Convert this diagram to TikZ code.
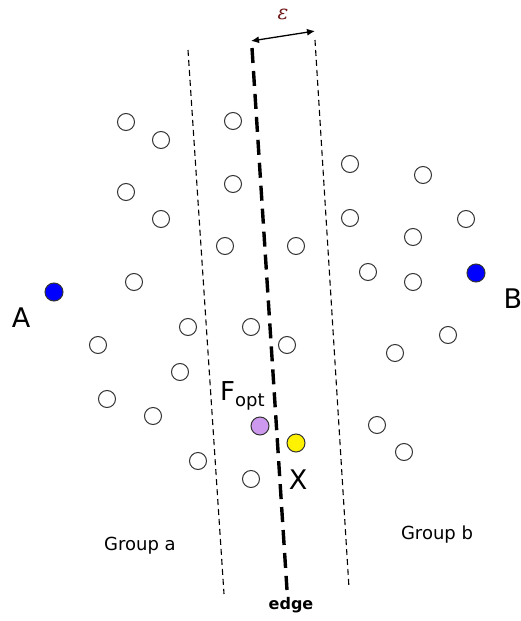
\documentclass[tikz,border=0pt]{standalone}
\usepackage{fontspec}
\setmainfont{DejaVu Sans}
\newfontfamily\epsfont{DejaVu Serif}
\usetikzlibrary{arrows.meta}
\definecolor{ptpurple}{RGB}{204,153,238}
\definecolor{eps}{RGB}{110,25,25}
\begin{document}
\begin{tikzpicture}[x=1pt,y=-1pt,
  pt/.style={circle,draw=black!80,line width=1pt,fill=white,minimum size=17pt,inner sep=0pt},
  boundary/.style={dashed,line width=1.1pt,dash pattern=on 6pt off 4pt},
  edgeline/.style={line width=3.4pt,dash pattern=on 15pt off 8pt},
  lbl/.style={inner sep=0pt,anchor=center}]
\useasboundingbox (0,0) rectangle (521,621);

% margin lines and the separating edge
\coordinate (la) at (188,50);  \coordinate (lb) at (224,594);
\coordinate (ea) at (252,48);  \coordinate (eb) at (287,590);
\coordinate (ra) at (315,40);  \coordinate (rb) at (349,588);
\draw[boundary] (la) -- (lb);
\draw[boundary] (ra) -- (rb);
\draw[edgeline] (ea) -- (eb);

% width of the margin
\coordinate (wa) at (251,41);
\coordinate (wb) at (315,31);
\draw[{Latex[length=8pt,width=7pt]}-{Latex[length=8pt,width=7pt]},line width=1.3pt] (wa) -- (wb);
\node[lbl,text=eps,font=\epsfont\itshape\fontsize{20}{20}\selectfont] (epslabel) at (283,14) {ε};

% group a
\foreach \n/\x/\y in {a1/126/122, a2/161/140, a3/233/121, a4/126/192, a5/161/219,
  a6/233/184, a7/225/246, a8/296/246, a9/134/282, a10/188/327, a11/251/327,
  a12/287/345, a13/98/345, a14/180/372, a15/107/399, a16/153/416, a17/198/461,
  a18/251/479}
  \node[pt] (\n) at (\x,\y) {};

% group b
\foreach \n/\x/\y in {b1/350/164, b2/423/175, b3/350/218, b4/466/219, b5/413/237,
  b6/368/272, b7/413/282, b8/448/335, b9/395/353, b10/377/425, b11/404/452}
  \node[pt] (\n) at (\x,\y) {};

% special points
\node[pt,fill=ptpurple,minimum size=18pt] (fopt) at (260,426) {};
\node[pt,fill=yellow,minimum size=18pt] (xpt) at (296,443) {};
\node[pt,fill=blue,minimum size=18pt] (apt) at (54,292) {};
\node[pt,fill=blue,minimum size=18pt] (bpt) at (476,273) {};

% labels
\node[lbl,font=\fontsize{27}{27}\selectfont] (alabel) at (21,318) {A};
\node[lbl,font=\fontsize{27}{27}\selectfont] (blabel) at (513,299) {B};
\node[lbl,font=\fontsize{26}{26}\selectfont,anchor=base west] (foptlabel) at (220,400) {F\raisebox{-6pt}{\fontsize{18}{18}\selectfont opt}};
\node[lbl,font=\fontsize{27}{27}\selectfont] (xlabel) at (298,480) {X};
\node[lbl,font=\fontsize{18}{18}\selectfont] (ga) at (140,546) {Group a};
\node[lbl,font=\fontsize{18}{18}\selectfont] (gb) at (437,535) {Group b};
\node[lbl,font=\bfseries\fontsize{16}{16}\selectfont] (edgelabel) at (291,605) {edge};
\end{tikzpicture}
\end{document}
